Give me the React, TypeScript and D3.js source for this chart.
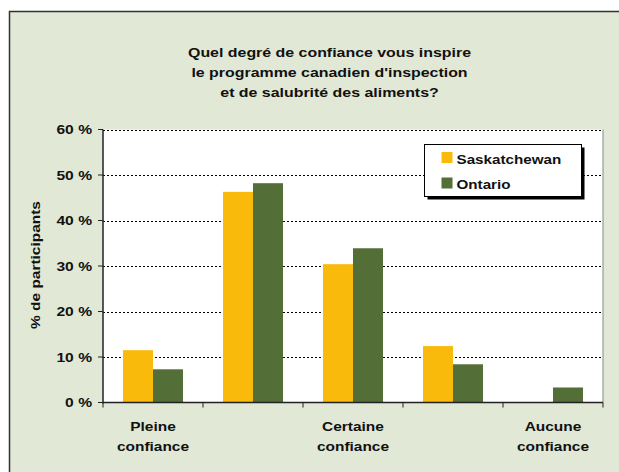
import React from 'react'
import * as d3 from 'd3'

const categories = ['Pleine confiance', '', 'Certaine confiance', '', 'Aucune confiance']
const seriesNames = ['Saskatchewan', 'Ontario']
const saskatchewan = [11.5, 46.3, 30.4, 12.4, 0]
const ontario = [7.3, 48.2, 33.9, 8.4, 3.3]
const yTicks = [0, 10, 20, 30, 40, 50, 60]
const titleLines = [
  'Quel degré de confiance vous inspire',
  "le programme canadien d'inspection",
  'et de salubrité des aliments?'
]

const colors = ['#F9BA0C', '#546E37']
const font = 'Arial, "Liberation Sans", sans-serif'

// the original text is set wider than Arial, so stretch it along its own direction
function Label({ x, y, size, sx, anchor = 'start', rotate = 0, children }: any) {
  return (
    <text transform={`translate(${x},${y}) rotate(${rotate}) scale(${sx},1)`}
      fontSize={size} fontWeight="bold" textAnchor={anchor} fill="#111">
      {children}
    </text>
  )
}

export default function App() {
  const W = 619
  const H = 472
  const left = 103
  const right = 603
  const top = 129.5
  const bottom = 402.5

  const x = d3.scaleBand<number>()
    .domain(categories.map((_, i) => i))
    .range([left, right])
  const inner = d3.scaleBand<string>()
    .domain(seriesNames)
    .range([20, 80])
  const y = d3.scaleLinear().domain([0, 60]).range([bottom, top])
  const values = [saskatchewan, ontario]

  return (
    <svg width={W} height={H} style={{ position: 'absolute', left: 0, top: 0, display: 'block' }}
      fontFamily={font}>
      <rect x={0} y={0} width={W} height={H} fill="#ffffff" />
      <rect x={9.5} y={11.5} width={W + 10} height={H + 10} fill="#E1E8D5" stroke="#333" strokeWidth={1.5} />

      {titleLines.map((t, i) => (
        <Label key={i} x={329.5} y={56.5 + i * 20} size={13.5} sx={1.18} anchor="middle">{t}</Label>
      ))}

      <rect x={left} y={top} width={right - left} height={bottom - top} fill="#ffffff" />

      {yTicks.filter(t => t > 0).map(t => (
        <line key={t} x1={left} x2={right} y1={Math.round(y(t)) + 0.5} y2={Math.round(y(t)) + 0.5}
          stroke="#000" strokeDasharray="2,2" strokeWidth={1} />
      ))}

      {values.map((vals, s) => (
        <g key={s} fill={colors[s]}>
          {vals.map((v, i) => v > 0 && (
            <rect key={i}
              x={(x(i) as number) + (inner(seriesNames[s]) as number)}
              width={inner.bandwidth()}
              y={y(v)}
              height={bottom - y(v)} />
          ))}
        </g>
      ))}

      <line x1={right} x2={right} y1={top} y2={bottom} stroke="#888" strokeWidth={1} />
      <line x1={left} x2={left} y1={top} y2={bottom + 1} stroke="#222" strokeWidth={1.5} />
      <line x1={left} x2={right} y1={bottom} y2={bottom} stroke="#222" strokeWidth={1.5} />

      {yTicks.map(t => (
        <g key={t}>
          <line x1={left - 5} x2={left} y1={y(t)} y2={y(t)} stroke="#222" strokeWidth={1} />
          <Label x={92} y={y(t) + 4.5} size={12.5} sx={1.25} anchor="end">{t} %</Label>
        </g>
      ))}

      {categories.map((_, i) => (
        <line key={i} x1={(x(i) as number)} x2={(x(i) as number)} y1={bottom} y2={bottom + 5}
          stroke="#222" strokeWidth={1} />
      ))}
      <line x1={right} x2={right} y1={bottom} y2={bottom + 5} stroke="#222" strokeWidth={1} />

      {categories.map((c, i) => {
        if (!c) return null
        const cx = (x(i) as number) + x.bandwidth() / 2
        return c.split(' ').map((p, j) => (
          <Label key={i + '-' + j} x={cx} y={430.5 + j * 20} size={13} sx={1.19} anchor="middle">{p}</Label>
        ))
      })}

      <Label x={40} y={265} size={13} sx={1.19} anchor="middle" rotate={-90}>% de participants</Label>

      <g>
        <rect x={427.5} y={147.5} width={157} height={52} fill="#000" />
        <rect x={424.5} y={144.5} width={157} height={52} fill="#fff" stroke="#000" strokeWidth={1} />
        {seriesNames.map((n, i) => (
          <g key={n}>
            <rect x={441.5} y={152 + i * 25.5} width={11} height={11} fill={colors[i]} />
            <Label x={456.5} y={163.5 + i * 25} size={13} sx={1.17}>{n}</Label>
          </g>
        ))}
      </g>
    </svg>
  )
}
